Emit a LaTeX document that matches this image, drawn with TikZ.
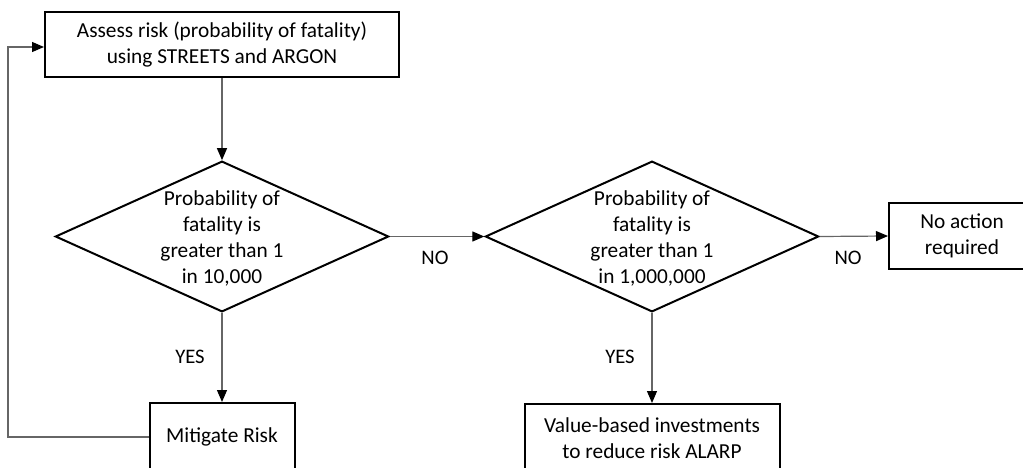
\documentclass[tikz,border=0pt]{standalone}
\usepackage{fontspec}
\setmainfont{Carlito}
\usetikzlibrary{shapes.geometric,arrows.meta}
\tikzset{
  stepbox/.style={draw=black, line width=1.5pt, align=center, inner sep=0pt},
  decision/.style={diamond, draw=black, line width=1.5pt, inner sep=0pt,
    minimum width=250pt, minimum height=113pt},
  link/.style={draw=black!60, line width=0.9pt,
    -{Triangle[length=9pt,width=7.5pt,color=black]}},
  tag/.style={font=\fontsize{15.5}{18}\selectfont}
}
\begin{document}
\begin{tikzpicture}[x=0.75pt,y=-0.75pt,font=\fontsize{16}{19.5}\selectfont]
\useasboundingbox (0,0) rectangle (1023,467);
\clip (0,0) rectangle (1023,467);
\node[stepbox, minimum width=265.5pt, minimum height=48.75pt] (assess) at (222,44.5)
  {Assess risk (probability of fatality)\\using STREETS and ARGON};
\node[decision] (check1) at (222,236.5) {};
\node[align=center] (check1txt) at (222,238) {Probability of\\fatality is\\greater than 1\\in 10,000};
\node[decision] (check2) at (652,236.5) {};
\node[align=center] (check2txt) at (652,238) {Probability of\\fatality is\\greater than 1\\in 1,000,000};
\node[stepbox, minimum width=109.5pt, minimum height=49.5pt] (noaction) at (962,236)
  {No action\\required};
\node[stepbox, minimum width=108.75pt, minimum height=51pt] (mitigate) at (222,437)
  {Mitigate Risk};
\node[stepbox, minimum width=191.25pt, minimum height=51.75pt] (invest) at (652,438.5)
  {Value-based investments\\to reduce risk ALARP};
\coordinate (back) at (8,47);
\draw[link] (assess) -- (check1);
\draw[link] (check1) -- (mitigate);
\draw[link] (check1.east) -- (check2.west);
\draw[link] (check2.east) -- (noaction.west);
\draw[link] (check2) -- (invest);
\draw[link] (mitigate.west) -| (back) -- (assess.west |- back);
\node[tag] (no1) at (435,258) {NO};
\node[tag] (no2) at (848,258) {NO};
\node[tag] (yes1) at (190,357) {YES};
\node[tag] (yes2) at (620,357) {YES};
\end{tikzpicture}
\end{document}
